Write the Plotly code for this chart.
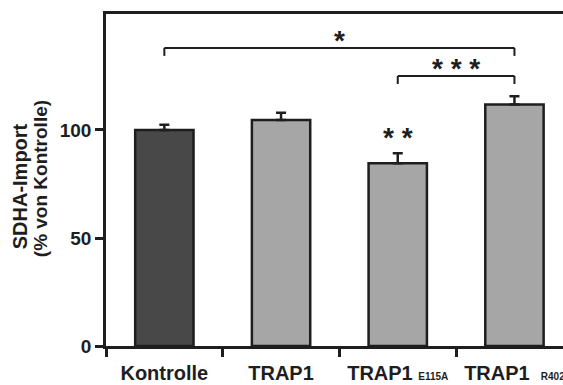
import plotly.graph_objects as go

# ---- data ----
categories = ["Kontrolle", "TRAP1", "TRAP1 <span style='font-size:10px'>E115A</span>",
              "TRAP1  <span style='font-size:10px'>R402</span>"]
values = [100.0, 104.6, 84.6, 111.8]
errors = [2.4, 3.4, 4.6, 3.8]
bar_colors = ["#484848", "#a6a6a6", "#a6a6a6", "#a6a6a6"]
bar_labels = ["", "", "* *", ""]
# comparisons: (from index, to index, bracket height, label)
comparisons = [(0, 3, 138.0, "*"), (2, 3, 125.0, "* * *")]
y_ticks = [0, 50, 100]

FONT = "Liberation Sans, Arial, sans-serif"
INK = "#1e1e1e"
STAR_SIZE = 28

fig = go.Figure()
fig.add_trace(go.Bar(
    x=categories, y=values,
    width=0.5,
    marker=dict(color=bar_colors, line=dict(color=INK, width=2.5)),
    error_y=dict(type="data", symmetric=False, array=errors,
                 arrayminus=[0] * len(errors), color=INK, thickness=2.5, width=5),
    showlegend=False,
))

shapes = []
annotations = []
drop = 3.7
for i0, i1, h, lab in comparisons:
    for (xa, ya, xb, yb) in [(i0, h - drop, i0, h), (i0, h, i1, h), (i1, h, i1, h - drop)]:
        shapes.append(dict(type="line", xref="x", yref="y", x0=xa, y0=ya, x1=xb, y1=yb,
                           line=dict(color=INK, width=2)))
    annotations.append(dict(x=(i0 + i1) / 2, y=h + 5.1, xref="x", yref="y", text=lab,
                            showarrow=False, yanchor="middle", yshift=-4,
                            font=dict(family=FONT, size=STAR_SIZE, color=INK, weight="bold")))
for i, lab in enumerate(bar_labels):
    if lab:
        annotations.append(dict(x=i, y=values[i] + errors[i] + 9.4, xref="x", yref="y", text=lab,
                                showarrow=False, yanchor="middle", yshift=-4,
                                font=dict(family=FONT, size=STAR_SIZE, color=INK, weight="bold")))

annotations.append(dict(x=-0.189, y=0.48, xref="paper", yref="paper", text="SDHA-Import",
                        textangle=-90, showarrow=False, xanchor="center", yanchor="middle",
                        font=dict(family=FONT, size=20, color=INK, weight="bold")))
annotations.append(dict(x=-0.144, y=0.503, xref="paper", yref="paper", text="(% von Kontrolle)",
                        textangle=-90, showarrow=False, xanchor="center", yanchor="middle",
                        font=dict(family=FONT, size=19, color=INK, weight="bold")))

fig.update_layout(
    width=563, height=385,
    margin=dict(l=106, r=0, t=14, b=39),
    paper_bgcolor="white", plot_bgcolor="white",
    shapes=shapes, annotations=annotations,
    font=dict(family=FONT, color=INK),
    xaxis=dict(type="category", range=[-0.5, 3.416], tickson="boundaries", automargin=False,
               showline=True, linecolor=INK, linewidth=2.5, mirror=True,
               ticks="outside", ticklen=8, tickwidth=2.5, tickcolor=INK,
               ticklabelstandoff=7,
               showgrid=False, zeroline=False,
               tickfont=dict(family=FONT, size=20, color=INK, weight="bold")),
    yaxis=dict(range=[0, 153.7], tickvals=y_ticks, automargin=False,
               showline=True, linecolor=INK, linewidth=2.5,
               ticks="outside", ticklen=8, tickwidth=2.5, tickcolor=INK,
               showgrid=False, zeroline=False,
               tickfont=dict(family=FONT, size=19, color=INK, weight="bold")),
)

fig.write_html("out.html", config={"displayModeBar": False},
               post_script="document.body.style.margin='0px';document.body.style.overflow='hidden';")
